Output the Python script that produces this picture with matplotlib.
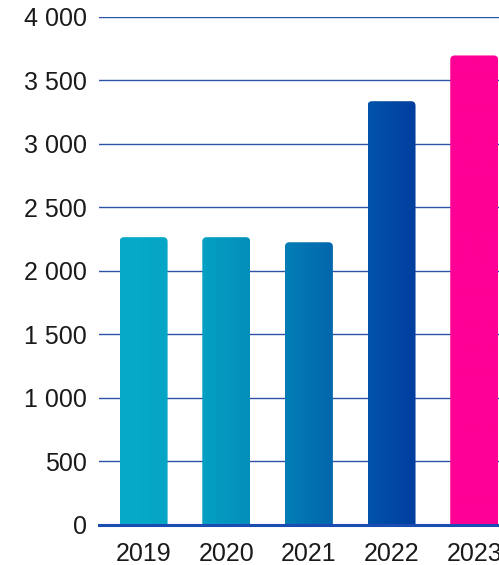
import matplotlib
matplotlib.use("Agg")
import matplotlib.pyplot as plt
import numpy as np
from matplotlib.patches import FancyBboxPatch
from matplotlib.colors import LinearSegmentedColormap
from matplotlib.ticker import FixedLocator, FuncFormatter

# ---- data ----
years = ["2019", "2020", "2021", "2022", "2023"]
values = [2265, 2265, 2225, 3335, 3695]
y_ticks = [0, 500, 1000, 1500, 2000, 2500, 3000, 3500, 4000]

# ---- style ----
grad_colors = [("#07ABC8", "#05A6C5"), ("#05A0C4", "#038FB9"), ("#037EB5", "#0267AD"),
               ("#0253AA", "#013E9F"), ("#FF0096", "#FF0096")]
plt.rcParams['font.family'] = ['Liberation Sans', 'DejaVu Sans']
text_color = "#1a1a1a"
grid_color = "#2c54a6"
axis_color = "#1a4db2"

fig = plt.figure(figsize=(4.99, 5.65), dpi=100)
ax = fig.add_axes([99 / 499, 40 / 565, 400 / 499, 508.3 / 565])
ax.set_xlim(-0.54, 4.30)
ax.set_ylim(0, 4000)

x = np.arange(len(years))
bars = ax.bar(x, values, width=0.58, color="none", edgecolor="none")

fig.canvas.draw()
# pixel per data-unit ratio for rounded corners
p0 = ax.transData.transform((0, 0))
p1 = ax.transData.transform((1, 1))
px_x = p1[0] - p0[0]
px_y = p1[1] - p0[1]
r_px = 4.5
r_x = r_px / px_x
aspect = px_x / px_y
r_y = r_x * aspect

for b, (c0, c1) in zip(bars, grad_colors):
    bx, bw, bh = b.get_x(), b.get_width(), b.get_height()
    patch = FancyBboxPatch((bx, -r_y * 2), bw, bh + r_y * 2,
                           boxstyle=f"round,pad=0,rounding_size={r_x}",
                           mutation_aspect=aspect,
                           facecolor="none", edgecolor="none", transform=ax.transData)
    ax.add_patch(patch)
    cmap = LinearSegmentedColormap.from_list("g", [c0, c1])
    grad = np.linspace(0, 1, 64).reshape(1, -1)
    im = ax.imshow(grad, cmap=cmap, aspect="auto", extent=(bx, bx + bw, -r_y * 2, bh),
                   origin="lower", interpolation="bilinear", zorder=2)
    im.set_clip_path(patch)

ax.set_xlim(-0.54, 4.30)
ax.set_ylim(0, 4000)

ax.set_xticks(x)
ax.set_xticklabels(years)
ax.yaxis.set_major_locator(FixedLocator(y_ticks))
ax.yaxis.set_major_formatter(FuncFormatter(lambda v, p: f"{int(v):,}".replace(",", " ")))
ax.tick_params(axis="both", length=0, labelsize=18, colors=text_color)
ax.tick_params(axis="y", pad=9)
ax.tick_params(axis="x", pad=12.5)

ax.yaxis.grid(True, color=grid_color, linewidth=1)
ax.set_axisbelow(True)
for s in ["left", "right", "top"]:
    ax.spines[s].set_visible(False)
ax.spines["bottom"].set_color(axis_color)
ax.spines["bottom"].set_linewidth(2.2)
ax.spines["bottom"].set_zorder(5)

fig.savefig("out.png", dpi=100)
